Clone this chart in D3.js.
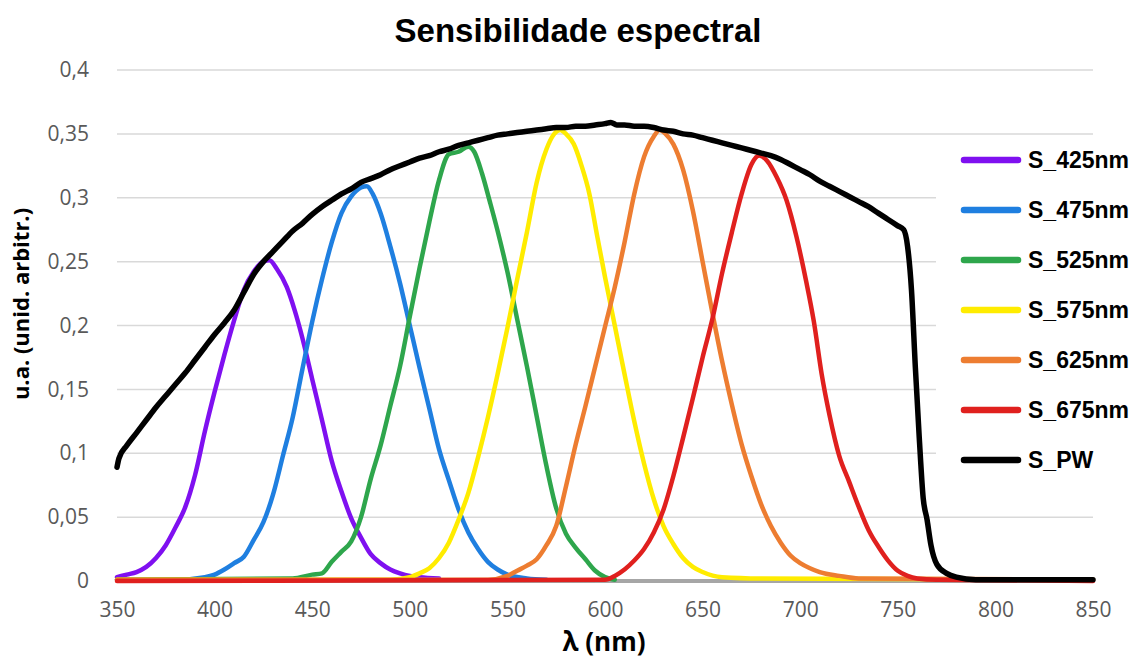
<!DOCTYPE html>
<html>
<head>
<meta charset="utf-8">
<script src="https://cdn.jsdelivr.net/npm/d3@7"></script>
<style>
  body { margin: 0; background: #fff; }
  svg { display: block; }
</style>
</head>
<body>
<div id="chart"></div>
<script>
// Values: [wavelength nm, u.a.]
const S_425 = [[350,0.003],[355,0.005],[360,0.007],[365,0.011],[370,0.018],[375,0.028],[380,0.042],[385,0.058],[390,0.083],[395,0.117],[400,0.148],[405,0.177],[410,0.204],[415,0.228],[420,0.242],[425,0.250],[428,0.251],[432,0.244],[437,0.230],[441,0.212],[445,0.190],[450,0.158],[455,0.126],[460,0.094],[465,0.070],[470,0.049],[475,0.034],[480,0.021],[485,0.014],[490,0.009],[495,0.006],[500,0.004],[505,0.003],[515,0.002]];
const S_475 = [[350,0.001],[380,0.001],[395,0.003],[400,0.005],[405,0.009],[410,0.014],[415,0.019],[420,0.032],[425,0.046],[430,0.068],[435,0.098],[440,0.128],[445,0.166],[450,0.203],[455,0.236],[460,0.265],[465,0.288],[470,0.301],[475,0.308],[478,0.309],[481,0.303],[485,0.288],[490,0.262],[495,0.233],[500,0.200],[505,0.167],[510,0.135],[515,0.103],[520,0.079],[525,0.056],[530,0.038],[535,0.025],[540,0.015],[545,0.009],[550,0.005],[560,0.002],[570,0.001]];
const S_525 = [[350,0.001],[440,0.002],[450,0.005],[455,0.006],[460,0.015],[465,0.023],[470,0.031],[475,0.050],[480,0.080],[485,0.106],[490,0.137],[495,0.168],[500,0.207],[505,0.245],[510,0.281],[515,0.314],[520,0.334],[525,0.336],[530,0.340],[533,0.336],[537,0.319],[541,0.297],[545,0.274],[550,0.242],[555,0.205],[560,0.168],[565,0.129],[570,0.090],[575,0.057],[580,0.037],[585,0.026],[590,0.017],[595,0.008],[600,0.003],[605,0.001]];
const S_575 = [[350,0.001],[490,0.001],[500,0.003],[505,0.006],[510,0.010],[515,0.018],[520,0.030],[525,0.048],[530,0.069],[535,0.097],[540,0.128],[545,0.162],[550,0.198],[555,0.236],[560,0.273],[565,0.312],[570,0.338],[574,0.350],[577,0.353],[580,0.350],[584,0.342],[588,0.325],[592,0.303],[596,0.270],[600,0.238],[605,0.200],[610,0.162],[615,0.125],[620,0.092],[625,0.064],[630,0.043],[635,0.029],[640,0.018],[645,0.011],[650,0.007],[660,0.003],[680,0.002],[850,0.001]];
const S_625 = [[350,0.001],[540,0.001],[550,0.004],[555,0.008],[560,0.012],[565,0.017],[570,0.028],[575,0.043],[580,0.074],[585,0.107],[590,0.137],[595,0.168],[600,0.199],[605,0.230],[610,0.265],[615,0.303],[620,0.332],[625,0.348],[628,0.353],[631,0.350],[635,0.342],[640,0.322],[645,0.290],[650,0.250],[655,0.210],[660,0.172],[665,0.138],[670,0.107],[675,0.082],[680,0.060],[685,0.043],[690,0.030],[695,0.020],[700,0.014],[705,0.010],[710,0.007],[720,0.004],[730,0.002],[850,0.001]];
const S_675 = [[350,0],[600,0.001],[605,0.004],[610,0.009],[615,0.016],[620,0.025],[625,0.038],[630,0.056],[635,0.082],[640,0.112],[645,0.143],[650,0.175],[655,0.205],[660,0.241],[665,0.273],[670,0.303],[675,0.326],[679,0.333],[683,0.329],[688,0.316],[693,0.298],[698,0.270],[703,0.235],[707,0.203],[711,0.162],[715,0.130],[720,0.098],[725,0.078],[730,0.058],[735,0.040],[740,0.027],[745,0.016],[750,0.008],[755,0.004],[760,0.002],[770,0.001],[850,0]];
const S_PW = [[350,0.089],[351,0.096],[355,0.106],[360,0.116],[365,0.126],[370,0.136],[375,0.145],[380,0.154],[385,0.163],[390,0.173],[395,0.183],[400,0.193],[405,0.202],[410,0.212],[415,0.226],[420,0.240],[425,0.250],[430,0.258],[435,0.266],[440,0.274],[445,0.280],[450,0.287],[455,0.293],[460,0.298],[465,0.303],[470,0.307],[475,0.312],[480,0.315],[485,0.318],[490,0.322],[495,0.325],[500,0.328],[505,0.331],[510,0.333],[515,0.336],[520,0.338],[525,0.341],[530,0.343],[535,0.345],[540,0.347],[545,0.349],[550,0.350],[555,0.351],[560,0.352],[565,0.353],[570,0.354],[575,0.355],[580,0.355],[585,0.356],[590,0.356],[595,0.357],[600,0.358],[603,0.359],[606,0.357],[610,0.357],[615,0.356],[620,0.356],[625,0.355],[630,0.353],[635,0.352],[640,0.350],[645,0.349],[650,0.347],[655,0.345],[660,0.343],[665,0.341],[670,0.339],[675,0.337],[680,0.335],[685,0.333],[690,0.330],[695,0.326],[700,0.322],[705,0.318],[710,0.313],[715,0.309],[720,0.305],[725,0.301],[730,0.297],[735,0.293],[740,0.288],[745,0.283],[750,0.278],[753,0.275],[755,0.262],[757,0.228],[759,0.167],[761,0.112],[763,0.065],[765,0.048],[767,0.028],[770,0.013],[775,0.006],[780,0.003],[790,0.001],[850,0.001]];
// unlabeled grey reference sitting on zero
const S_ref = [[350,0],[850,0]];

const seriesNames = ["S_425nm", "S_475nm", "S_525nm", "S_575nm", "S_625nm", "S_675nm", "S_PW"];
const seriesData = [S_425, S_475, S_525, S_575, S_625, S_675, S_PW];
const seriesColors = ["#7f10f0", "#1f7fe0", "#2ea64c", "#ffec00", "#ed7d31", "#e0201e", "#000000"];

const xTicks = [350, 400, 450, 500, 550, 600, 650, 700, 750, 800, 850];
const yTicks = [0, 0.05, 0.1, 0.15, 0.2, 0.25, 0.3, 0.35, 0.4];
const yTickLabels = ["0", "0,05", "0,1", "0,15", "0,2", "0,25", "0,3", "0,35", "0,4"];

const width = 1134, height = 662;
const plot = { left: 117, right: 1093, top: 70, bottom: 581 };

const svg = d3.select("#chart").append("svg")
    .attr("width", width)
    .attr("height", height);

const x = d3.scaleLinear().domain([350, 850]).range([plot.left, plot.right]);
const y = d3.scaleLinear().domain([0, 0.4]).range([plot.bottom, plot.top]);

// Gridlines
svg.append("g")
    .selectAll("line")
    .data(yTicks)
    .enter()
    .append("line")
    .attr("x1", plot.left)
    .attr("x2", plot.right)
    .attr("y1", d => y(d))
    .attr("y2", d => y(d))
    .attr("stroke", "#d9d9d9")
    .attr("stroke-width", 1.5);

// Y axis labels
const yAxis = svg.append("g")
    .attr("transform", `translate(${plot.left - 25},0)`)
    .call(d3.axisLeft(y).tickValues(yTicks).tickSize(0).tickFormat((d, i) => yTickLabels[i]));
yAxis.select(".domain").remove();
yAxis.selectAll("text")
    .attr("fill", "#595959")
    .style("font-family", "'Open Sans', sans-serif")
    .style("font-size", "21px");

// X axis labels
const xAxis = svg.append("g")
    .attr("transform", `translate(0,${plot.bottom + 18})`)
    .call(d3.axisBottom(x).tickValues(xTicks).tickSize(0).tickFormat(d3.format("d")));
xAxis.select(".domain").remove();
xAxis.selectAll("text")
    .attr("fill", "#595959")
    .style("font-family", "'Open Sans', sans-serif")
    .style("font-size", "21px");

const line = d3.line()
    .x(d => x(d[0]))
    .y(d => y(d[1]))
    .curve(d3.curveMonotoneX);

svg.append("path")
    .datum(S_ref)
    .attr("fill", "none")
    .attr("stroke", "#a6a6a6")
    .attr("stroke-width", 4)
    .attr("d", line);

seriesData.forEach((data, i) => {
    svg.append("path")
        .datum(data)
        .attr("fill", "none")
        .attr("stroke", seriesColors[i])
        .attr("stroke-width", i === 6 ? 5.5 : 4.5)
        .attr("stroke-linejoin", "round")
        .attr("stroke-linecap", "round")
        .attr("d", line);
});

// Legend on white box
const legend = svg.append("g");
legend.append("rect")
    .attr("x", 936)
    .attr("y", 140)
    .attr("width", 198)
    .attr("height", 345)
    .attr("fill", "#fff");

seriesNames.forEach((name, i) => {
    const ly = 160 + i * 50;
    legend.append("line")
        .attr("x1", 964)
        .attr("x2", 1018)
        .attr("y1", ly)
        .attr("y2", ly)
        .attr("stroke", seriesColors[i])
        .attr("stroke-width", 6.5)
        .attr("stroke-linecap", "round");
    legend.append("text")
        .attr("x", 1028)
        .attr("y", ly + 8)
        .style("font-family", "'Liberation Sans', Arial, sans-serif")
        .style("font-weight", "bold")
        .style("font-size", "23px")
        .attr("fill", "#000")
        .text(name);
});

// Title
svg.append("text")
    .attr("x", 578)
    .attr("y", 42)
    .attr("text-anchor", "middle")
    .style("font-family", "'Liberation Sans', Arial, sans-serif")
    .style("font-weight", "bold")
    .style("font-size", "33px")
    .text("Sensibilidade espectral");

// Axis titles
svg.append("text")
    .attr("transform", "rotate(-90)")
    .attr("x", -304)
    .attr("y", 29)
    .attr("text-anchor", "middle")
    .style("font-family", "'Open Sans', sans-serif")
    .style("font-weight", "bold")
    .style("font-size", "22px")
    .text("u.a. (unid. arbitr.)");

svg.append("text")
    .attr("x", 604)
    .attr("y", 651)
    .attr("text-anchor", "middle")
    .style("font-family", "'Open Sans', sans-serif")
    .style("font-weight", "bold")
    .style("font-size", "26px")
    .text("λ (nm)");
</script>
</body>
</html>
